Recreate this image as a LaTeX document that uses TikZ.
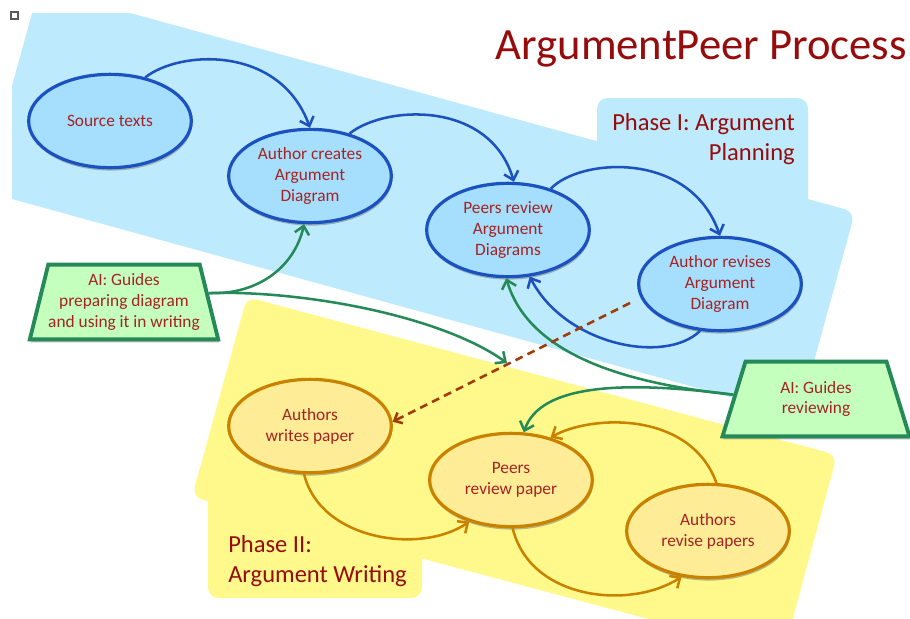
\documentclass[tikz,border=0pt]{standalone}
\usepackage{fontspec}
\setmainfont{Carlito}
\usetikzlibrary{shapes.geometric,arrows.meta,shadows}
\definecolor{bgblue}{RGB}{189,234,252}
\definecolor{efill}{RGB}{166,222,254}
\definecolor{eblue}{RGB}{28,82,192}
\definecolor{bgyellow}{RGB}{255,249,140}
\definecolor{yfill}{RGB}{255,236,150}
\definecolor{oline}{RGB}{200,130,0}
\definecolor{gfill}{RGB}{196,255,190}
\definecolor{gline}{RGB}{38,138,88}
\definecolor{tred}{RGB}{165,35,35}
\definecolor{ttl}{RGB}{150,12,12}
\definecolor{dbrown}{RGB}{160,60,10}
\newcommand\myNodeFont{\fontsize{13pt}{15.6pt}\selectfont}
\newcommand\myPhaseFont{\fontsize{18.4pt}{22pt}\selectfont}
\begin{document}
\begin{tikzpicture}[x=0.75pt,y=-0.75pt,
  eshadow/.style={drop shadow={shadow xshift=0.6pt,shadow yshift=-2.2pt,opacity=0.45,fill=black!60}},
  bell/.style={ellipse,draw=eblue,fill=efill,line width=2.4pt,minimum width=122pt,minimum height=70pt,inner sep=0pt,align=center,text=tred,font=\myNodeFont,eshadow},
  yell/.style={ellipse,draw=oline,fill=yfill,line width=2.4pt,minimum width=122pt,minimum height=70pt,inner sep=0pt,align=center,text=tred,font=\myNodeFont,eshadow},
  aibox/.style={trapezium,trapezium left angle=72,trapezium right angle=72,trapezium stretches=true,minimum width=141pt,minimum height=56pt,draw=gline,fill=gfill,line width=2.9pt,align=center,text=tred,font=\myNodeFont,inner sep=0pt,eshadow},
  tipb/.style={-{Straight Barb[length=6pt,width=11pt]}},
  barrow/.style={draw=eblue,line width=1.9pt,tipb},
  garrow/.style={draw=gline,line width=1.9pt,tipb},
  oarrow/.style={draw=oline,line width=1.9pt,tipb},
  darrow/.style={draw=dbrown,line width=1.9pt,dash pattern=on 6pt off 4pt,-{Straight Barb[length=5pt,width=9pt]}},
  phase/.style={inner sep=0pt,text=ttl,font=\myPhaseFont}
]
\useasboundingbox (0,0) rectangle (910,618);
\fill[white] (0,0) rectangle (910,618);
% blue phase area
\begin{scope}
  \clip (12,13) rectangle (910,618);
  \fill[bgblue,rounded corners=8pt] (39,-12) -- (855,212) -- (799,416) -- (-17,191) -- cycle;
\end{scope}
\fill[bgblue,rounded corners=8pt] (597,98) rectangle (808,235);
% yellow phase area
\fill[bgyellow,rounded corners=8pt] (247,297) -- (837,455) -- (783,655) -- (192,497) -- cycle;
\fill[bgyellow,rounded corners=8pt] (208,470) rectangle (422,598);
% small square
\draw[black!65,line width=1.3pt,fill=white] (11,12) rectangle (18,19);

% texts
\node[anchor=base east,inner sep=0pt,text=ttl,font=\fontsize{33.5pt}{40pt}\selectfont] (title) at (907,59) {ArgumentPeer Process};
\node[phase,anchor=base east,align=right] (ph1) at (795,160) {Phase I: Argument\\Planning};
\node[phase,anchor=base west,align=left] (ph2) at (228,582) {Phase II:\\Argument Writing};

% nodes
\node[bell] (src) at (110,121) {Source texts};
\node[bell] (ac) at (310,176) {Author creates\\Argument\\Diagram};
\node[bell] (pr) at (508,230) {Peers review\\Argument\\Diagrams};
\node[bell] (ar) at (720,284) {Author revises\\Argument\\Diagram};
\node[yell] (awp) at (310,426) {Authors\\writes paper};
\node[yell] (ppr) at (511,480) {Peers\\review paper};
\node[yell] (arp) at (708,531) {Authors\\revise papers};
\node[aibox] (ai1) at (124,302) {AI: Guides\\preparing diagram\\and using it in writing};
\node[aibox] (ai2) at (816,399) {AI: Guides\\reviewing};
\coordinate (p2) at (507,363);
\coordinate (ds) at (630,303);

% blue connectors
\draw[barrow] (src.51) .. controls (180,50) and (280,45) .. (ac.north);
\draw[barrow] (ac.47) .. controls (385,105) and (490,100) .. (pr.83);
\draw[barrow] (pr.44) .. controls (580,158) and (690,150) .. (ar.north);
\draw[barrow] (ar.-113) .. controls (665,365) and (565,345) .. (pr.-65);
% green connectors
\draw[garrow] (ai1.6) .. controls (260,295) and (295,265) .. (ac.-97);
\draw[garrow] (ai1.6) .. controls (300,290) and (440,315) .. (p2);
\draw[garrow] (ai2.177) .. controls (640,385) and (530,360) .. (pr.-92);
\draw[garrow] (ai2.177) .. controls (620,380) and (540,385) .. (ppr.75);
% dashed connector
\draw[darrow] (ds) -- (awp.3);
% orange connectors
\draw[oarrow] (awp.-97) .. controls (320,540) and (420,555) .. (ppr.225);
\draw[oarrow] (ppr.-88) .. controls (530,600) and (630,610) .. (arp.-120);
\draw[oarrow] (arp.80) .. controls (690,410) and (590,415) .. (ppr.47);
\end{tikzpicture}
\end{document}
